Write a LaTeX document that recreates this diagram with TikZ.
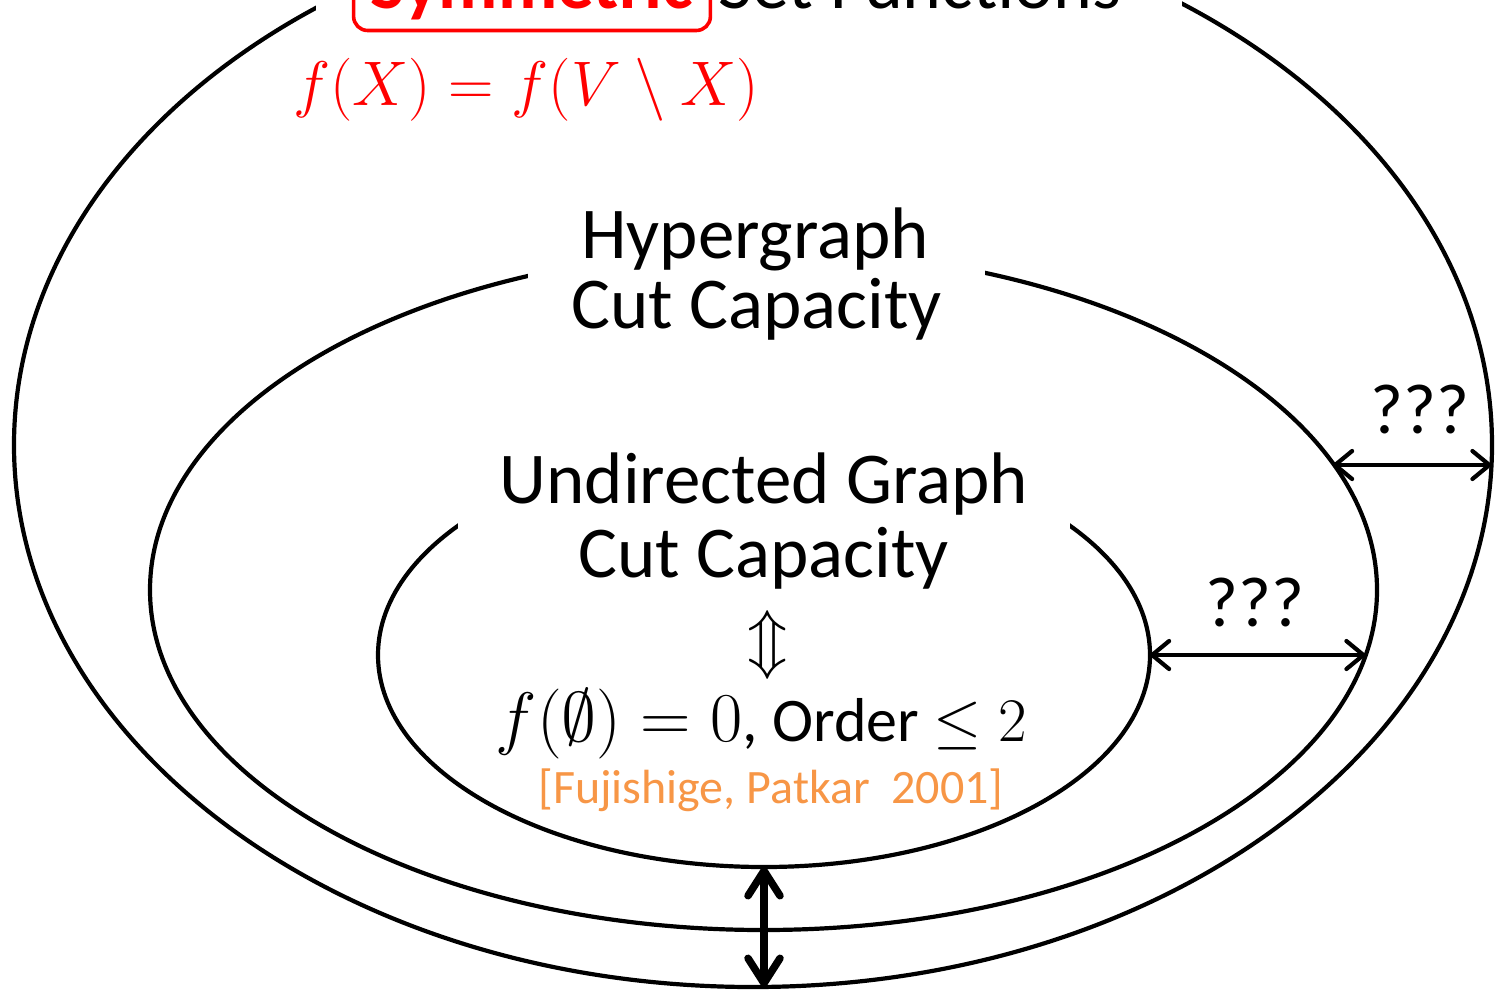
\RequirePackage{fix-cm}
\documentclass[tikz,border=0pt]{standalone}
\usepackage[no-math]{fontspec}
\setmainfont{Carlito}
\usetikzlibrary{arrows.meta,shapes.geometric}
\definecolor{refred}{RGB}{255,0,0}
\definecolor{reforange}{RGB}{247,150,70}
\begin{document}
\begin{tikzpicture}[x=1pt,y=-1pt,
  ring/.style={draw, ellipse, line width=4.2pt, inner sep=0pt, outer sep=0pt},
  maskfill/.style={fill=white},
  bigtext/.style={font=\fontsize{73}{73}\selectfont, anchor=base, inner sep=0pt},
  condtext/.style={font=\fontsize{62}{62}\selectfont, anchor=base, inner sep=0pt},
  citetext/.style={font=\fontsize{48}{48}\selectfont, text=reforange, anchor=base, inner sep=0pt},
  qtext/.style={font=\fontsize{71}{71}\selectfont, anchor=base, inner sep=0pt},
  gaparrow/.style={line width=4.2pt, {Straight Barb[length=17pt,width=28pt,round]}-{Straight Barb[length=17pt,width=28pt,round]}},
  bigarrow/.style={line width=7.5pt, {Straight Barb[length=25pt,width=32pt,round]}-{Straight Barb[length=25pt,width=32pt,round]}},
  ]
\useasboundingbox (0,0) rectangle (1495,989);
\clip (0,0) rectangle (1495,989);

% ellipses
\node[ring, minimum width=1478pt, minimum height=1084pt] (outer) at (753,445) {};
\node[ring, minimum width=1227pt, minimum height=680pt] (mid) at (763.5,590) {};
\node[ring, minimum width=772pt, minimum height=424pt] (inner) at (764,655) {};

% gaps in the ellipse lines behind the titles
\fill[maskfill] (316,-120) rectangle (1182,20);
\fill[maskfill] (528,200) rectangle (985,340);
\fill[maskfill] (458,420) rectangle (1070,600);

% outer title
\node[draw=refred, text=refred, line width=3.6pt, rounded corners=14pt,
      font=\bfseries\fontsize{73}{73}\selectfont, inner xsep=17pt, inner ysep=11pt,
      anchor=base] (sym) at (532,8) {Symmetric};
\node[font=\fontsize{74}{74}\selectfont, anchor=base west, inner sep=0pt] (setf) at (718,8) {Set Functions};
\node[font=\fontsize{63}{63}\selectfont, text=refred, anchor=base, inner sep=0pt] (symf) at (526,105) {$f(X)=f(V\setminus X)$};

% middle title
\node[bigtext] (hyp1) at (755,258) {Hypergraph};
\node[bigtext] (hyp2) at (756.5,328) {Cut Capacity};

% inner title
\node[bigtext] (und1) at (764,503) {Undirected Graph};
\node[bigtext] (und2) at (763.5,577) {Cut Capacity};
\node[font=\fontsize{66}{66}\selectfont, inner sep=0pt] (equiv) at (768,645) {$\Updownarrow$};
\node[condtext] (cond) at (761.5,741) {{\fontsize{70}{70}\selectfont$f(\emptyset)=0$}, Order $\leq 2$};
\node[citetext] (cite) at (771,803) {[Fujishige, Patkar\ \ 2001]};

% question marks
\node[qtext] (q1) at (1420,433) {???};
\node[qtext] (q2) at (1255,626) {???};

% arrow ends on the ellipses
\coordinate (midUp) at (1333,465);
\coordinate (outerR) at (1491.5,465);
\coordinate (midLow) at (1365.5,655);

% arrows
\draw[gaparrow] (midUp) -- (outerR);
\draw[gaparrow] (inner.east) -- (midLow);
\draw[bigarrow] (inner.south) -- (inner.south |- outer.south);
\end{tikzpicture}
\end{document}
